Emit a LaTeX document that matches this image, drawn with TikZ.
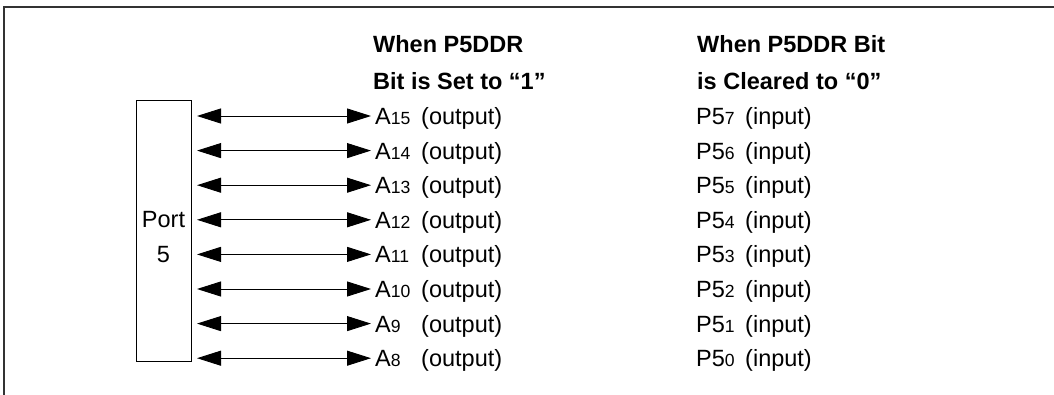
\documentclass[tikz,border=0pt]{standalone}
\usepackage{fontspec}
\setmainfont{Liberation Sans}
\usetikzlibrary{arrows.meta}
\begin{document}
\begin{tikzpicture}[x=1pt,y=-1pt,
  txt/.style={anchor=base west,inner sep=0pt,font=\fontsize{23.5}{26}\selectfont},
  hdr/.style={txt,font=\fontsize{23.5}{26}\selectfont\bfseries},
  biarrow/.style={{Triangle[length=24pt,width=15pt]}-{Triangle[length=24pt,width=15pt]},line width=0.9pt},
  portbox/.style={draw,line width=0.9pt,minimum width=55pt,minimum height=261pt,inner sep=0pt}
]
\useasboundingbox (0,0) rectangle (1054,395);
\draw[line width=2pt,draw=black!80] (4,395) coordinate (fb) -- (4,7) coordinate (fc) -- (1054,7) coordinate (fr);
\node[portbox] (port) at (163.5,230.5) {};
\node[txt,anchor=base] (portlbl) at (163.5,228) {Port};
\node[txt,anchor=base] (portnum) at (163.5,262) {5};
\node[hdr] (h1a) at (373,53) {When P5DDR};
\node[hdr] (h1b) at (373,90) {Bit is Set to “1”};
\node[hdr] (h2a) at (697,53) {When P5DDR Bit};
\node[hdr] (h2b) at (697,90) {is Cleared to “0”};
\newcommand{\sub}[1]{{\fontsize{17.6}{19}\selectfont #1}}
\foreach \i/\a/\p in {0/15/7,1/14/6,2/13/5,3/12/4,4/11/3,5/10/2,6/9/1,7/8/0}{
  \pgfmathsetmacro{\yy}{116+34.6*\i}
  \coordinate (l\i) at (197,\yy);
  \coordinate (r\i) at (371,\yy);
  \draw[biarrow] (l\i) -- (r\i);
  \node[txt] (a\i) at (375,\yy+8.5) {A\sub{\a}};
  \node[txt] (o\i) at (421,\yy+8.5) {(output)};
  \node[txt] (p\i) at (696,\yy+8.5) {P5\sub{\p}};
  \node[txt] (n\i) at (745,\yy+8.5) {(input)};
}
\end{tikzpicture}
\end{document}
